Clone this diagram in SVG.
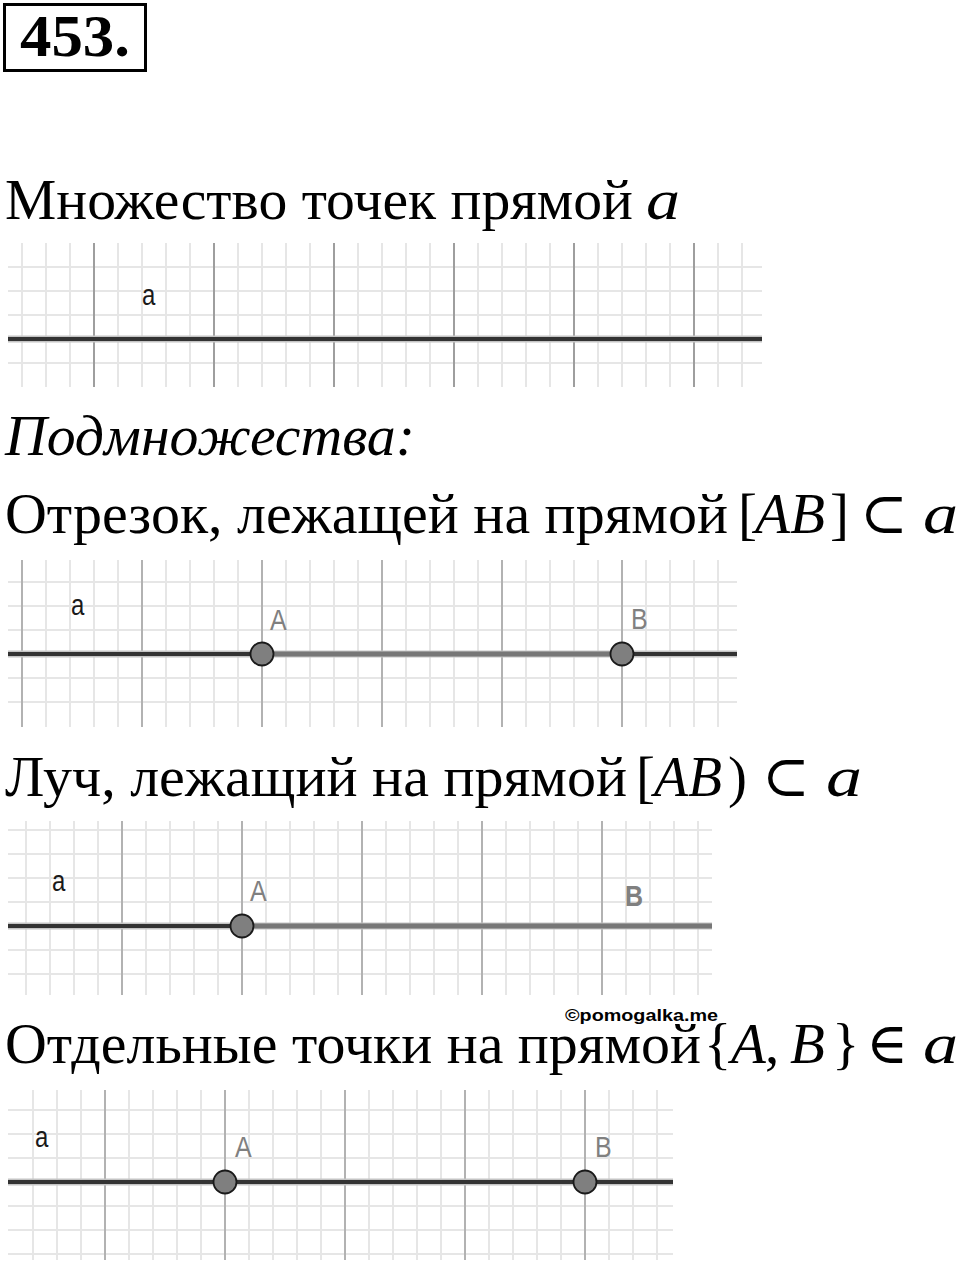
<svg xmlns="http://www.w3.org/2000/svg" width="960" height="1263" viewBox="0 0 960 1263">
<style>
.t{font-family:"Liberation Serif","Times New Roman",serif;font-size:57px;fill:#000}
.i{font-style:italic}
.m{font-family:"Liberation Serif","DejaVu Serif",serif;font-size:57px;fill:#000}
.lbl{font-family:"Liberation Sans",Arial,sans-serif;font-size:24px;fill:#1a1a1a}
.pl{font-family:"Liberation Sans",Arial,sans-serif;font-size:25px;fill:#808080}
.halo{stroke:#c4c4c4;stroke-width:7;fill:none}
.dark{stroke:#333;stroke-width:4;fill:none}
.seg{stroke:#777;stroke-width:5;fill:none}
.pt{fill:#7f7f7f;stroke:#1a1a1a;stroke-width:1.8}
</style>
<defs>
<pattern id="vmin" width="24" height="10" patternUnits="userSpaceOnUse" x="-1"><rect width="2" height="10" fill="#e6e6e6"/></pattern>
<pattern id="hmin" width="10" height="24" patternUnits="userSpaceOnUse" y="-1"><rect width="10" height="2" fill="#e6e6e6"/></pattern>
<pattern id="vmaj" width="120" height="10" patternUnits="userSpaceOnUse" x="-1"><rect width="2" height="10" fill="#b2b2b2"/></pattern>
<pattern id="vmaj1" width="120" height="10" patternUnits="userSpaceOnUse" x="-1"><rect width="2" height="10" fill="#9e9e9e"/></pattern>
</defs>
<rect width="960" height="1263" fill="#fff"/>

<g id="header">
<rect x="4.5" y="4.5" width="141" height="66" fill="none" stroke="#000" stroke-width="3"/>
<text x="20" y="56" font-family="Liberation Serif,serif" font-weight="bold" font-size="60" textLength="110" lengthAdjust="spacingAndGlyphs">453.</text>
</g>

<g id="title1">
<text class="t" x="5" y="219" textLength="628" lengthAdjust="spacingAndGlyphs">Множество точек прямой</text>
<text class="t i" x="646" y="219" textLength="34" lengthAdjust="spacingAndGlyphs">a</text>
</g>

<g id="grid1" transform="translate(94,339)">
<rect x="-86" y="-96" width="754" height="144" fill="url(#vmin)"/>
<rect x="-86" y="-95" width="754" height="142" fill="url(#hmin)"/>
<rect x="-86" y="-96" width="754" height="144" fill="url(#vmaj1)"/>
<g id="connectors1">
<path class="halo" d="M-86 0H668"/>
<path class="dark" d="M-86 0H668"/>
</g>
<g transform="translate(48,-34) scale(1,1.2)"><text class="lbl" x="0" y="0">a</text></g>
</g>

<g id="title2">
<text class="t i" x="5" y="455" textLength="410" lengthAdjust="spacingAndGlyphs">Подмножества:</text>
<text class="t" x="5" y="533" textLength="723" lengthAdjust="spacingAndGlyphs">Отрезок, лежащей на прямой</text>
<text class="m" x="738" y="533">[</text>
<text class="t i" x="755" y="533" textLength="70" lengthAdjust="spacingAndGlyphs">AB</text>
<text class="m" x="830" y="533">]</text>
<text class="m" x="860" y="533">⊂</text>
<text class="t i" x="923" y="533" textLength="35" lengthAdjust="spacingAndGlyphs">a</text>
</g>

<g id="grid2" transform="translate(262,654)">
<rect x="-254" y="-94" width="729" height="167" fill="url(#vmin)"/>
<rect x="-254" y="-94" width="729" height="165" fill="url(#hmin)"/>
<rect x="-254" y="-94" width="729" height="167" fill="url(#vmaj)"/>
<g id="connectors2">
<path class="halo" d="M-254 0H475"/>
<path class="dark" d="M-254 0H0M360 0H475"/>
<path class="seg" d="M0 0H360"/>
</g>
<g id="pointA2"><circle class="pt" cx="0" cy="0" r="11.5"/></g>
<g id="pointB2"><circle class="pt" cx="360" cy="0" r="11.5"/></g>
<g transform="translate(-191,-39) scale(1,1.2)"><text class="lbl" x="0" y="0">a</text></g>
<g transform="translate(8,-24) scale(1,1.2)"><text class="pl" x="0" y="0">A</text></g>
<g transform="translate(369,-25) scale(1,1.2)"><text class="pl" x="0" y="0">B</text></g>
</g>

<g id="title3">
<text class="t" x="5" y="796" textLength="622" lengthAdjust="spacingAndGlyphs">Луч, лежащий на прямой</text>
<text class="m" x="636" y="796">[</text>
<text class="t i" x="654" y="796" textLength="68" lengthAdjust="spacingAndGlyphs">AB</text>
<text class="m" x="728" y="796">)</text>
<text class="m" x="762" y="796">⊂</text>
<text class="t i" x="826" y="796" textLength="36" lengthAdjust="spacingAndGlyphs">a</text>
</g>

<g id="grid3" transform="translate(242,926)">
<rect x="-234" y="-105" width="704" height="174" fill="url(#vmin)"/>
<rect x="-234" y="-105" width="704" height="174" fill="url(#hmin)"/>
<rect x="-234" y="-105" width="704" height="174" fill="url(#vmaj)"/>
<g id="connectors3">
<path class="halo" d="M-234 0H470"/>
<path class="dark" d="M-234 0H0"/>
<path class="seg" d="M0 0H470"/>
</g>
<g id="pointA3"><circle class="pt" cx="0" cy="0" r="11.5"/></g>
<g transform="translate(-190,-35) scale(1,1.2)"><text class="lbl" x="0" y="0">a</text></g>
<g transform="translate(8,-25) scale(1,1.2)"><text class="pl" x="0" y="0">A</text></g>
<g transform="translate(383,-20) scale(1,1.2)"><text class="pl" x="0" y="0" font-weight="bold">B</text></g>
</g>

<text x="565" y="1021" font-family="Liberation Sans,Arial,sans-serif" font-weight="bold" font-size="17" textLength="153" lengthAdjust="spacingAndGlyphs">©pomogalka.me</text>

<g id="title4">
<text class="t" x="5" y="1063" textLength="696" lengthAdjust="spacingAndGlyphs">Отдельные точки на прямой</text>
<text class="m" x="704" y="1063">{</text>
<text class="t i" x="731" y="1063">A</text>
<text class="m" x="765" y="1063">,</text>
<text class="t i" x="790" y="1063">B</text>
<text class="m" x="832" y="1063">}</text>
<text class="m" x="866" y="1063">∈</text>
<text class="t i" x="923" y="1063" textLength="35" lengthAdjust="spacingAndGlyphs">a</text>
</g>

<g id="grid4" transform="translate(225,1182)">
<rect x="-214" y="-92" width="662" height="170" fill="url(#vmin)"/>
<rect x="-217" y="-92" width="665" height="170" fill="url(#hmin)"/>
<rect x="-214" y="-92" width="662" height="170" fill="url(#vmaj)"/>
<g id="connectors4">
<path class="halo" d="M-217 0H448"/>
<path class="dark" d="M-217 0H448"/>
</g>
<g id="pointA4"><circle class="pt" cx="0" cy="0" r="11.5"/></g>
<g id="pointB4"><circle class="pt" cx="360" cy="0" r="11.5"/></g>
<g transform="translate(-190,-35) scale(1,1.2)"><text class="lbl" x="0" y="0">a</text></g>
<g transform="translate(10,-25) scale(1,1.2)"><text class="pl" x="0" y="0">A</text></g>
<g transform="translate(370,-25) scale(1,1.2)"><text class="pl" x="0" y="0">B</text></g>
</g>
</svg>
